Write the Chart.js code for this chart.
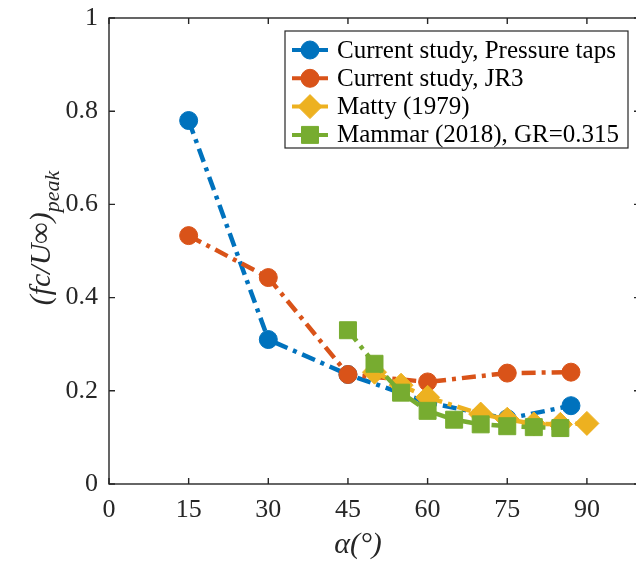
<!DOCTYPE html>
<html>
<head>
<meta charset="utf-8">
<script src="https://cdn.jsdelivr.net/npm/chart.js@4.4.1/dist/chart.umd.min.js"></script>
<style>
  html, body { margin: 0; padding: 0; background: #fff; overflow: hidden; }
  #wrap { position: relative; width: 640px; height: 561px; }
</style>
</head>
<body>
<div id="wrap"><canvas id="chart"></canvas></div>
<script>
// ticks
const xTicks = [0, 15, 30, 45, 60, 75, 90]
const yTicks = [0, 0.2, 0.4, 0.6, 0.8, 1]

// series (alpha in degrees, peak fc/U)
const tapsAlpha   = [15, 30, 45, 60, 75, 87]
const tapsPeak    = [0.78, 0.31, 0.235, 0.175, 0.14, 0.168]
const jr3Alpha    = [15, 30, 45, 60, 75, 87]
const jr3Peak     = [0.533, 0.443, 0.235, 0.219, 0.238, 0.24]
const mattyAlpha  = [50, 55, 60, 70, 75, 80, 85, 90]
const mattyPeak   = [0.24, 0.212, 0.186, 0.15, 0.139, 0.129, 0.128, 0.13]
const mammarAlpha = [45, 50, 55, 60, 65, 70, 75, 80, 85]
const mammarPeak  = [0.33, 0.258, 0.196, 0.157, 0.138, 0.128, 0.124, 0.122, 0.12]

const labels = ['Current study, Pressure taps', 'Current study, JR3', 'Matty (1979)', 'Mammar (2018), GR=0.315']

const SERIF = '"Liberation Serif", "DejaVu Serif", serif'
const AXIS  = '#262626'
const DASH  = [14, 6, 4, 6]

const pts = (xs, ys) => xs.map((x, i) => ({ x, y: ys[i] }))

function serie(label, data, cor, estilo, raio, ordem) {
  return {
    label,
    data,
    order: ordem,
    borderColor: cor,
    backgroundColor: cor,
    borderWidth: 4.5,
    borderDash: DASH,
    pointStyle: estilo,
    pointRadius: raio,
    pointHoverRadius: raio,
    pointBackgroundColor: cor,
    pointBorderColor: cor,
    pointBorderWidth: 1,
    tension: 0,
  }
}

const datasets = [
  serie(labels[0], pts(tapsAlpha, tapsPeak),     '#0072BD', 'circle',  9,  4),
  serie(labels[1], pts(jr3Alpha, jr3Peak),       '#D95319', 'circle',  9,  3),
  serie(labels[2], pts(mattyAlpha, mattyPeak),   '#EDB120', 'rectRot', 12, 2),
  serie(labels[3], pts(mammarAlpha, mammarPeak), '#77AC30', 'rect',    12, 1),
]

const moldura = {
  id: 'moldura',
  afterDraw(chart) {
    const { ctx, chartArea: a, scales: { x, y } } = chart
    ctx.save()
    ctx.strokeStyle = AXIS
    ctx.lineWidth = 1.4
    ctx.strokeRect(a.left, a.top, a.right - a.left, a.bottom - a.top)
    ctx.beginPath()
    xTicks.forEach(v => {
      const px = x.getPixelForValue(v)
      ctx.moveTo(px, a.bottom); ctx.lineTo(px, a.bottom - 6)
      ctx.moveTo(px, a.top);    ctx.lineTo(px, a.top + 6)
    })
    yTicks.forEach(v => {
      const py = y.getPixelForValue(v)
      ctx.moveTo(a.left, py);  ctx.lineTo(a.left + 6, py)
      ctx.moveTo(a.right, py); ctx.lineTo(a.right - 6, py)
    })
    ctx.stroke()

    // legenda
    const bx = 285, by = 31, bw = 343, bh = 117
    ctx.fillStyle = '#fff'
    ctx.fillRect(bx, by, bw, bh)
    ctx.lineWidth = 1.2
    ctx.strokeRect(bx, by, bw, bh)
    ctx.font = `25px ${SERIF}`
    ctx.textBaseline = 'middle'
    chart.data.datasets.forEach((ds, i) => {
      const ry = by + 19 + i * 28.3
      ctx.strokeStyle = ds.borderColor
      ctx.lineWidth = 4
      ctx.setLineDash([])
      ctx.beginPath(); ctx.moveTo(292, ry); ctx.lineTo(328, ry); ctx.stroke()
      ctx.fillStyle = ds.borderColor
      ctx.lineWidth = 1
      Chart.helpers.drawPoint(ctx, { pointStyle: ds.pointStyle, radius: ds.pointRadius, rotation: 0, borderWidth: 1 }, 310, ry)
      ctx.fillStyle = '#000'
      ctx.fillText(ds.label, 337, ry + 1)
    })

    // titulos
    ctx.fillStyle = AXIS
    ctx.textBaseline = 'alphabetic'
    ctx.textAlign = 'left'
    const principal = '(fc/U∞)', sub = 'peak'
    ctx.font = `italic 30px ${SERIF}`
    const w1 = ctx.measureText(principal).width
    ctx.font = `italic 22px ${SERIF}`
    const w2 = ctx.measureText(sub).width
    ctx.save()
    ctx.translate(50, 238)
    ctx.rotate(-Math.PI / 2)
    const x0 = -(w1 + w2) / 2
    ctx.font = `italic 30px ${SERIF}`
    ctx.fillText(principal, x0, 0)
    ctx.font = `italic 22px ${SERIF}`
    ctx.fillText(sub, x0 + w1, 9)
    ctx.restore()

    ctx.font = `italic 30px ${SERIF}`
    ctx.textAlign = 'center'
    ctx.fillText('α(°)', 358, 553)
    ctx.restore()
  }
}

new Chart(document.getElementById('chart'), {
  type: 'line',
  data: { datasets },
  options: {
    responsive: true,
    maintainAspectRatio: false,
    animation: false,
    layout: { autoPadding: false, padding: { top: 18, right: 0, left: 0, bottom: 0 } },
    plugins: { legend: { display: false }, tooltip: { enabled: false } },
    scales: {
      x: {
        type: 'linear',
        min: 0,
        max: 100,
        afterBuildTicks: s => { s.ticks = xTicks.map(v => ({ value: v })) },
        afterFit: s => { s.height = 77; s.paddingLeft = 0; s.paddingRight = 0 },
        grid: { display: false, drawTicks: false },
        border: { display: false },
        ticks: { color: AXIS, padding: 11, font: { family: SERIF, size: 26 }, maxRotation: 0 },
      },
      y: {
        type: 'linear',
        min: 0,
        max: 1,
        afterBuildTicks: s => { s.ticks = yTicks.map(v => ({ value: v })) },
        afterFit: s => { s.width = 109; s.paddingTop = 0; s.paddingBottom = 0 },
        grid: { display: false, drawTicks: false },
        border: { display: false },
        ticks: { color: AXIS, padding: 11, font: { family: SERIF, size: 26 }, callback: v => String(v) },
      },
    },
  },
  plugins: [moldura],
})
</script>
</body>
</html>
